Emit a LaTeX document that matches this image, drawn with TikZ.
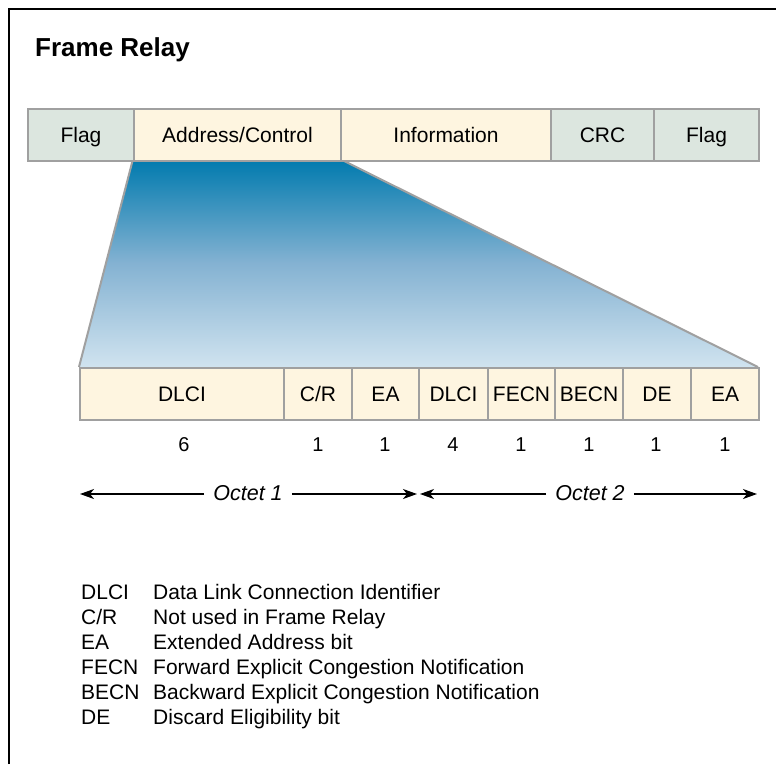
\documentclass[tikz,border=0pt]{standalone}
\usepackage{fontspec}
\setmainfont{Liberation Sans}
\usetikzlibrary{arrows.meta}
\definecolor{cellgray}{RGB}{160,160,160}
\definecolor{flagfill}{RGB}{220,230,223}
\definecolor{addrfill}{RGB}{254,245,224}
\definecolor{blueTop}{RGB}{0,122,174}
\definecolor{blueMid}{RGB}{132,178,210}
\definecolor{blueBot}{RGB}{208,227,239}
\tikzset{
  cellbox/.style={draw=cellgray, line width=2pt, inner sep=0pt, anchor=north west,
    minimum height=52pt, font=\fontsize{21}{24}\selectfont, text height=15pt, text depth=0pt},
  greencell/.style={cellbox, fill=flagfill},
  creamcell/.style={cellbox, fill=addrfill},
  numlabel/.style={font=\fontsize{20}{23}\selectfont, inner sep=0pt},
  octlabel/.style={font=\fontsize{21.5}{24}\selectfont\itshape, inner sep=9pt, text height=15pt, text depth=0pt},
  octarrow/.style={line width=1.3pt, -{Stealth[length=14pt,width=10pt,inset=4pt]}},
  legabbr/.style={font=\fontsize{21}{24}\selectfont, anchor=base west, inner sep=0pt},
}
\begin{document}
\begin{tikzpicture}[x=1pt,y=-1pt]
\useasboundingbox (0,0) rectangle (776,764);
\draw[line width=1.2pt] (9,764) -- (9,9) -- (776,9);
\node[font=\fontsize{26}{30}\selectfont\bfseries, anchor=base west, inner sep=0pt] (title) at (35,56) {Frame Relay};

% blue expansion shading (drawn first)
\coordinate (tl) at (133,159);
\coordinate (tr) at (340,159);
\coordinate (bl) at (79,367);
\coordinate (br) at (758,367);
\shade[top color=blueTop, bottom color=blueBot, middle color=blueMid] (tl) -- (tr) -- (br) -- (bl) -- cycle;
\draw[cellgray, line width=2pt] (tl) -- (bl);
\draw[cellgray, line width=2pt] (tr) -- (br);

% top frame
\node[greencell, minimum width=106pt] (flag1) at (27,108) {Flag};
\node[creamcell, minimum width=207pt] (addr) at (133,108) {Address/Control};
\node[creamcell, minimum width=210pt] (info) at (340,108) {Information};
\node[greencell, minimum width=103pt] (crc) at (550,108) {CRC};
\node[greencell, minimum width=105pt] (flag2) at (653,108) {Flag};

% address field
\node[creamcell, minimum width=204pt] (dlci1) at (79,367) {DLCI};
\node[creamcell, minimum width=68pt] (cr) at (283,367) {C/R};
\node[creamcell, minimum width=67pt] (ea1) at (351,367) {EA};
\node[creamcell, minimum width=69pt] (dlci2) at (418,367) {DLCI};
\node[creamcell, minimum width=67pt] (fecn) at (487,367) {FECN};
\node[creamcell, minimum width=68pt] (becn) at (554,367) {BECN};
\node[creamcell, minimum width=68pt] (de) at (622,367) {DE};
\node[creamcell, minimum width=68pt] (ea2) at (690,367) {EA};

% bit counts
\node[numlabel] (n1) at (184,445) {6};
\node[numlabel] (n2) at (318,445) {1};
\node[numlabel] (n3) at (385,445) {1};
\node[numlabel] (n4) at (453,445) {4};
\node[numlabel] (n5) at (521,445) {1};
\node[numlabel] (n6) at (589,445) {1};
\node[numlabel] (n7) at (656,445) {1};
\node[numlabel] (n8) at (725,445) {1};

% octet arrows
\coordinate (o1l) at (80,494);
\coordinate (o1r) at (417,494);
\coordinate (o2l) at (420,494);
\coordinate (o2r) at (757,494);
\node[octlabel] (oct1) at (248,493) {Octet 1};
\node[octlabel] (oct2) at (590,493) {Octet 2};
\draw[octarrow] (oct1.west |- o1l) -- (o1l);
\draw[octarrow] (oct1.east |- o1r) -- (o1r);
\draw[octarrow] (oct2.west |- o2l) -- (o2l);
\draw[octarrow] (oct2.east |- o2r) -- (o2r);

% legend
\node[legabbr] (l1a) at (81,599) {DLCI};
\node[legabbr] (l1b) at (153,599) {Data Link Connection Identifier};
\node[legabbr] (l2a) at (81,624) {C/R};
\node[legabbr] (l2b) at (153,624) {Not used in Frame Relay};
\node[legabbr] (l3a) at (81,649) {EA};
\node[legabbr] (l3b) at (153,649) {Extended Address bit};
\node[legabbr] (l4a) at (81,674) {FECN};
\node[legabbr] (l4b) at (153,674) {Forward Explicit Congestion Notification};
\node[legabbr] (l5a) at (81,699) {BECN};
\node[legabbr] (l5b) at (153,699) {Backward Explicit Congestion Notification};
\node[legabbr] (l6a) at (81,724) {DE};
\node[legabbr] (l6b) at (153,724) {Discard Eligibility bit};
\end{tikzpicture}
\end{document}
